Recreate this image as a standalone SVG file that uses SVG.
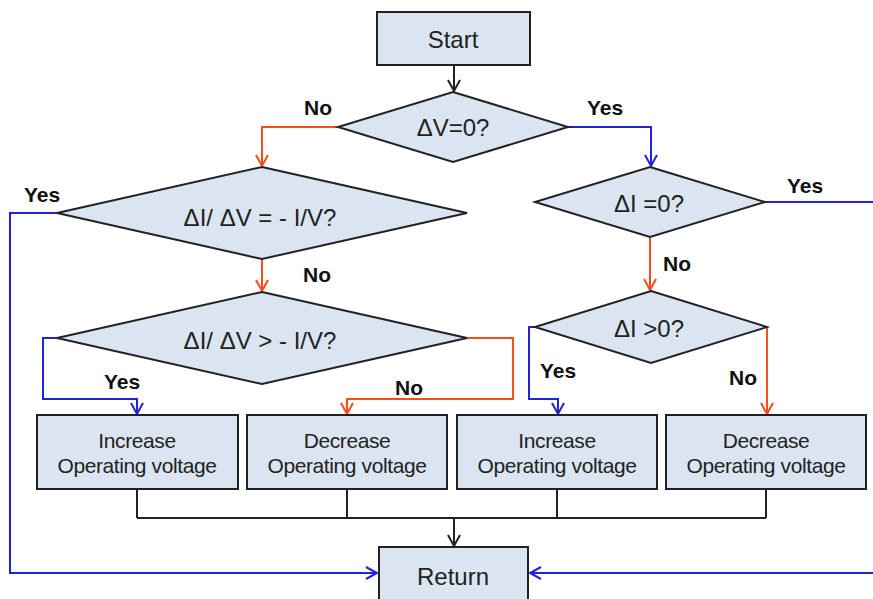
<svg xmlns="http://www.w3.org/2000/svg" width="873" height="599" viewBox="0 0 873 599">
<style>
.box{fill:#dbe5f1;stroke:#222;stroke-width:2}
.t{font-family:"Liberation Sans",Arial,sans-serif;fill:#222;text-anchor:middle}
.big{font-size:24px}
.bt{font-size:21px;letter-spacing:-0.4px}
.lbl{font-family:"Liberation Sans",Arial,sans-serif;font-weight:bold;font-size:21px;fill:#111;text-anchor:middle}
.c{fill:none;stroke-width:2}
.k{stroke:#222}
.o{stroke:#ff4a1a}
.b{stroke:#2222dd}
</style>
<defs>
<marker id="ak" markerUnits="userSpaceOnUse" markerWidth="16" markerHeight="16" refX="13" refY="8" orient="auto" viewBox="0 0 16 16"><path d="M2,2 L13,8 L2,14" fill="none" stroke="#222" stroke-width="2"/></marker>
<marker id="ao" markerUnits="userSpaceOnUse" markerWidth="16" markerHeight="16" refX="13" refY="8" orient="auto" viewBox="0 0 16 16"><path d="M2,2 L13,8 L2,14" fill="none" stroke="#ff4a1a" stroke-width="2"/></marker>
<marker id="ab" markerUnits="userSpaceOnUse" markerWidth="16" markerHeight="16" refX="13" refY="8" orient="auto" viewBox="0 0 16 16"><path d="M2,2 L13,8 L2,14" fill="none" stroke="#2222dd" stroke-width="2"/></marker>
</defs>
<g id="connectors">
<path class="c k" d="M454,65 V91" marker-end="url(#ak)"/>
<path class="c o" d="M338,127 H262 V166" marker-end="url(#ao)"/>
<path class="c b" d="M568,127 H651 V166" marker-end="url(#ab)"/>
<path class="c b" d="M57,213 H10 V573 H377" marker-end="url(#ab)"/>
<path class="c o" d="M262,259 V291" marker-end="url(#ao)"/>
<path class="c b" d="M57,338 H43 V399 H137 V414" marker-end="url(#ab)"/>
<path class="c o" d="M467,338 H513 V399 H347 V414" marker-end="url(#ao)"/>
<path class="c b" d="M765,202 H900 V573 H530" marker-end="url(#ab)"/>
<path class="c o" d="M650,237 V290" marker-end="url(#ao)"/>
<path class="c b" d="M535,327 H529 V399 H558 V414" marker-end="url(#ab)"/>
<path class="c o" d="M767,327 V414" marker-end="url(#ao)"/>
<path class="c k" d="M137,489 V518 M347,489 V518 M557,489 V518 M766,489 V518 M137,518 H766"/>
<path class="c k" d="M454,518 V546" marker-end="url(#ak)"/>
</g>
<g id="start"><rect class="box" x="377" y="12" width="153" height="53"/><text class="t big" x="453" y="48">Start</text></g>
<g id="d1"><polygon class="box" points="453,92 568,127 453,162 338,127"/><text class="t big" x="453" y="136">ΔV=0?</text></g>
<g id="d2"><polygon class="box" points="262,167 467,213 262,259 57,213"/><text class="t big" x="260" y="226">ΔI/ ΔV = - I/V?</text></g>
<g id="d3"><polygon class="box" points="262,292 467,338 262,384 57,338"/><text class="t big" x="260" y="349">ΔI/ ΔV &gt; - I/V?</text></g>
<g id="d4"><polygon class="box" points="650,167 765,202 650,237 535,202"/><text class="t big" x="649" y="212">ΔI =0?</text></g>
<g id="d5"><polygon class="box" points="651,291 767,327 651,363 535,327"/><text class="t big" x="649" y="337">ΔI &gt;0?</text></g>
<g id="b1"><rect class="box" x="37" y="415" width="201" height="74"/><text class="t bt" x="137" y="448">Increase</text><text class="t bt" x="137" y="473">Operating voltage</text></g>
<g id="b2"><rect class="box" x="247" y="415" width="200" height="74"/><text class="t bt" x="347" y="448">Decrease</text><text class="t bt" x="347" y="473">Operating voltage</text></g>
<g id="b3"><rect class="box" x="457" y="415" width="200" height="74"/><text class="t bt" x="557" y="448">Increase</text><text class="t bt" x="557" y="473">Operating voltage</text></g>
<g id="b4"><rect class="box" x="666" y="415" width="200" height="74"/><text class="t bt" x="766" y="448">Decrease</text><text class="t bt" x="766" y="473">Operating voltage</text></g>
<g id="return"><rect class="box" x="379" y="547" width="149" height="70"/><text class="t big" x="453" y="585">Return</text></g>
<g id="labels">
<text class="lbl" x="318" y="115">No</text>
<text class="lbl" x="605" y="115">Yes</text>
<text class="lbl" x="42" y="202">Yes</text>
<text class="lbl" x="317" y="282">No</text>
<text class="lbl" x="805" y="193">Yes</text>
<text class="lbl" x="677" y="271">No</text>
<text class="lbl" x="122" y="389">Yes</text>
<text class="lbl" x="409" y="395">No</text>
<text class="lbl" x="558" y="378">Yes</text>
<text class="lbl" x="743" y="385">No</text>
</g>
</svg>
